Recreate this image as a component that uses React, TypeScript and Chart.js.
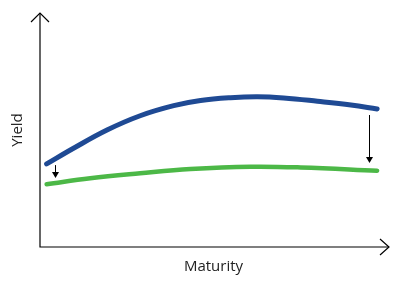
import React, { useEffect, useRef } from "react";
import { Chart, registerables } from "chart.js";

Chart.register(...registerables);

const blueMaturity = [1.9, 9.6, 19.2, 28.7, 38.3, 46.0, 54.6, 62.3, 69.8, 79.5, 89.1, 96.6];
const blueYield = [35.5, 42.2, 50.0, 56.1, 60.4, 62.6, 63.8, 64.2, 63.7, 62.3, 60.7, 59.0];
const greenMaturity = [1.9, 14.4, 28.7, 43.1, 60.3, 74.7, 96.6];
const greenYield = [26.8, 29.4, 31.5, 33.3, 34.3, 34.0, 32.6];
const arrowX = [4.3, 94.3];
const arrowFrom = [35.0, 56.4];
const arrowTo = [29.5, 35.9];
const xTitle = "Maturity";
const yTitle = "Yield";

const axesPlugin = {
  id: "axesArrows",
  afterDatasetsDraw(chart: any) {
    const { ctx, scales } = chart;
    const xs = scales.x;
    const ys = scales.y;
    const x0 = xs.getPixelForValue(0);
    const x1 = xs.getPixelForValue(100);
    const y0 = ys.getPixelForValue(0);
    const y1 = ys.getPixelForValue(100);
    ctx.save();
    ctx.strokeStyle = "#000";
    ctx.lineWidth = 1.2;
    ctx.beginPath();
    ctx.moveTo(x0, y1);
    ctx.lineTo(x0, y0);
    ctx.lineTo(x1, y0);
    ctx.stroke();
    ctx.beginPath();
    ctx.moveTo(x0 - 9, y1 + 9);
    ctx.lineTo(x0, y1);
    ctx.lineTo(x0 + 9, y1 + 9);
    ctx.moveTo(x1 - 9, y0 - 8);
    ctx.lineTo(x1, y0);
    ctx.lineTo(x1 - 9, y0 + 8);
    ctx.stroke();
    ctx.lineWidth = 1;
    ctx.fillStyle = "#000";
    for (let i = 0; i < arrowX.length; i++) {
      const ax = Math.round(xs.getPixelForValue(arrowX[i])) + 0.5;
      const ya = ys.getPixelForValue(arrowFrom[i]);
      const yb = ys.getPixelForValue(arrowTo[i]);
      ctx.beginPath();
      ctx.moveTo(ax, ya);
      ctx.lineTo(ax, yb - 5);
      ctx.stroke();
      ctx.beginPath();
      ctx.moveTo(ax - 3.5, yb - 6);
      ctx.lineTo(ax + 3.5, yb - 6);
      ctx.lineTo(ax, yb);
      ctx.closePath();
      ctx.fill();
    }
    ctx.fillStyle = "#222";
    ctx.font = "15px 'Open Sans'";
    ctx.textAlign = "center";
    ctx.textBaseline = "middle";
    ctx.fillText(xTitle, (x0 + x1) / 2 - 1, y0 + 20);
    ctx.translate(18, 130);
    ctx.rotate(-Math.PI / 2);
    ctx.fillText(yTitle, 0, 0);
    ctx.restore();
  },
};

export default function App() {
  const ref = useRef<HTMLCanvasElement | null>(null);
  useEffect(() => {
    if (!ref.current) return;
    const chart = new Chart(ref.current, {
      type: "line",
      data: {
        datasets: [
          {
            data: blueMaturity.map((x, i) => ({ x, y: blueYield[i] })),
            borderColor: "#1f4a94",
            borderWidth: 5,
            pointRadius: 0,
            tension: 0.4,
            borderCapStyle: "round",
            borderJoinStyle: "round",
          },
          {
            data: greenMaturity.map((x, i) => ({ x, y: greenYield[i] })),
            borderColor: "#4cb847",
            borderWidth: 4.5,
            pointRadius: 0,
            tension: 0.4,
            borderCapStyle: "round",
            borderJoinStyle: "round",
          },
        ],
      },
      options: {
        animation: false,
        responsive: true,
        maintainAspectRatio: false,
        layout: { padding: { left: 40, right: 11, top: 13, bottom: 36 } },
        plugins: { legend: { display: false }, tooltip: { enabled: false } },
        scales: {
          x: { type: "linear", min: 0, max: 100, display: false },
          y: { type: "linear", min: 0, max: 100, display: false },
        },
      },
      plugins: [axesPlugin],
    });
    return () => chart.destroy();
  }, []);
  return (
    <div style={{ position: "fixed", left: 0, top: 0, width: 400, height: 283, background: "#fff" }}>
      <canvas ref={ref} />
    </div>
  );
}
